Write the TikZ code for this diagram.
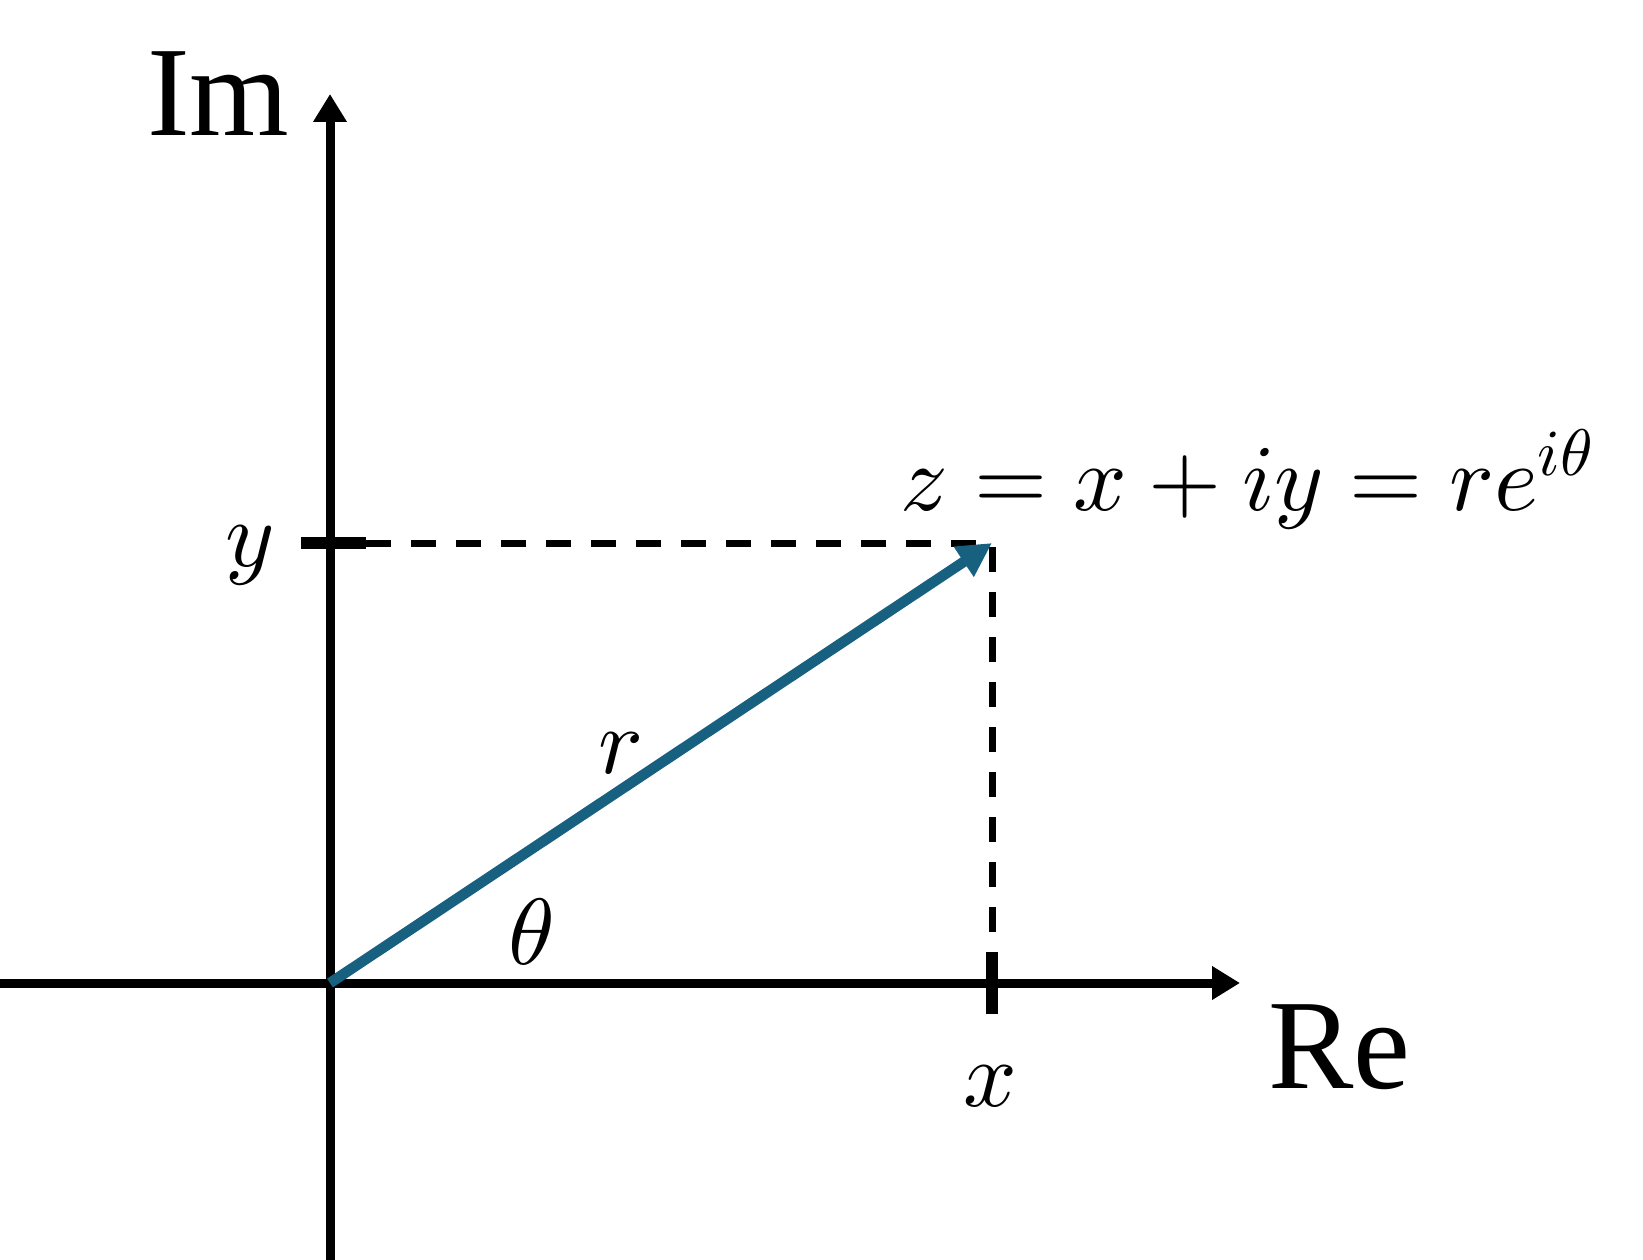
\documentclass[tikz,border=0pt]{standalone}
\DeclareFontFamily{OML}{cmm}{\skewchar\font127}
\DeclareFontShape{OML}{cmm}{m}{it}{<->cmmi10}{}
\DeclareFontFamily{OMS}{cmsy}{\skewchar\font48}
\DeclareFontShape{OMS}{cmsy}{m}{n}{<->cmsy10}{}
\DeclareFontFamily{OT1}{cmr}{\hyphenchar\font45}
\DeclareFontShape{OT1}{cmr}{m}{n}{<->cmr10}{}
\usepackage{fontspec}
\newfontfamily\axisfont{Liberation Serif}
\usetikzlibrary{arrows.meta}
\definecolor{vecblue}{RGB}{24,96,128}
\begin{document}
\begin{tikzpicture}[x=1pt,y=-1pt,
  axis/.style={line width=9pt,-{Triangle[length=28pt,width=32pt]}},
  tick/.style={line width=12pt},
  guide/.style={line width=7pt,dash pattern=on 25pt off 20pt},
  vec/.style={line width=10.5pt,vecblue,-{Triangle[length=34pt,width=34pt]}},
  axlabel/.style={font=\axisfont\fontsize{128}{128}\selectfont,inner sep=0pt},
  mlabel/.style={font=\fontsize{94}{94}\selectfont,inner sep=0pt,anchor=base}]
\useasboundingbox (0,0) rectangle (1643,1260);
\coordinate (O) at (330,983);
\coordinate (P) at (992,543);
\coordinate (X) at (992,983);
\coordinate (Y) at (330,543);
\coordinate (xl) at (0,983);
\coordinate (xr) at (1240,983);
\coordinate (yb) at (330,1260);
\coordinate (yt) at (330,94);
\coordinate (xt1) at (992,952);
\coordinate (xt2) at (992,1014);
\coordinate (yt1) at (301,543);
\coordinate (yt2) at (366,543);
% axes
\draw[axis] (xl) -- (xr);
\draw[axis] (yb) -- (yt);
% guides
\draw[guide] (yt2) -- (P) -- (xt1);
% ticks
\draw[tick] (xt1) -- (xt2);
\draw[tick] (yt1) -- (yt2);
% vector
\draw[vec] (O) -- (P);
% labels
\node[axlabel,anchor=base west] (im) at (147,136) {Im};
\node[axlabel,anchor=base west] (re) at (1268,1088) {Re};
\node[mlabel,anchor=base west] (eq) at (900,510) {$z = x + iy = re^{i\theta}$};
\node[mlabel] (ylab) at (250,566) {$y$};
\node[mlabel] (xlab) at (990,1106) {$x$};
\node[mlabel] (rlab) at (621,773) {$r$};
\node[mlabel] (tlab) at (532,964) {$\theta$};
\end{tikzpicture}
\end{document}
